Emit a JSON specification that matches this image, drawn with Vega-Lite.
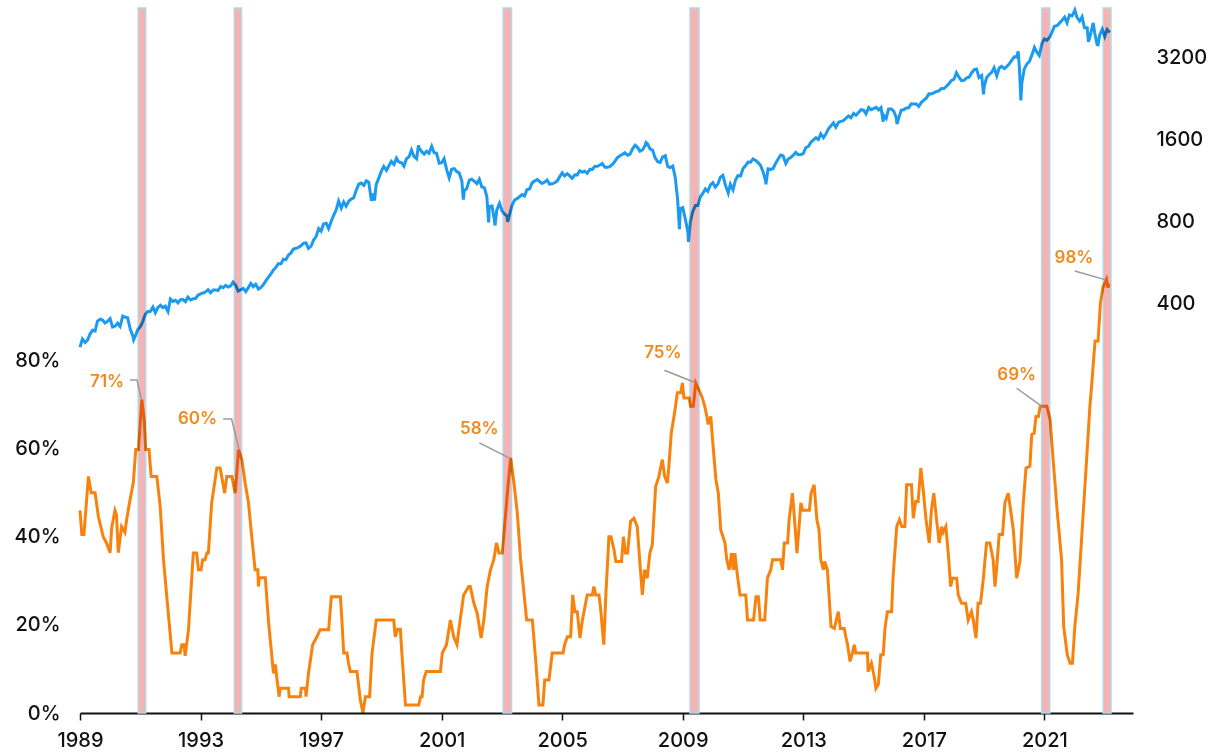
{
  "$schema": "https://vega.github.io/schema/vega-lite/v6.json",
  "width": 1053,
  "height": 705,
  "autosize": "none",
  "padding": {"left": 80, "top": 8, "right": 82, "bottom": 39},
  "background": "white",
  "config": {
    "view": {"stroke": null},
    "font": "Inter",
    "axis": {"labelFont": "Inter", "labelFontWeight": 500, "labelColor": "#111111", "labelFontSize": 20, "grid": false, "title": null}
  },
  "datasets": {
    "spx": [
      {"t":1989.0,"v":277.7},{"t":1989.08,"v":297.5},{"t":1989.17,"v":288.9},{"t":1989.25,"v":294.9},{"t":1989.33,"v":309.6},{"t":1989.42,"v":320.5},{"t":1989.5,"v":318.0},{"t":1989.58,"v":346.1},{"t":1989.67,"v":351.5},{"t":1989.75,"v":349.2},{"t":1989.83,"v":340.4},{"t":1989.92,"v":346.0},
      {"t":1990.0,"v":353.4},{"t":1990.08,"v":329.1},{"t":1990.17,"v":331.9},{"t":1990.25,"v":339.9},{"t":1990.33,"v":330.8},{"t":1990.42,"v":361.2},{"t":1990.5,"v":358.0},{"t":1990.58,"v":356.2},{"t":1990.67,"v":322.6},{"t":1990.75,"v":306.1},{"t":1990.78,"v":295.5},{"t":1990.83,"v":304.0},{"t":1990.92,"v":322.2},
      {"t":1991.0,"v":330.2},{"t":1991.08,"v":343.9},{"t":1991.17,"v":367.1},{"t":1991.25,"v":375.2},{"t":1991.33,"v":375.3},{"t":1991.42,"v":389.8},{"t":1991.5,"v":371.2},{"t":1991.58,"v":387.8},{"t":1991.67,"v":395.4},{"t":1991.75,"v":387.9},{"t":1991.83,"v":392.5},{"t":1991.92,"v":375.2},
      {"t":1992.0,"v":417.1},{"t":1992.08,"v":408.8},{"t":1992.17,"v":412.7},{"t":1992.25,"v":403.7},{"t":1992.33,"v":414.9},{"t":1992.42,"v":415.4},{"t":1992.5,"v":408.1},{"t":1992.58,"v":424.2},{"t":1992.67,"v":414.0},{"t":1992.75,"v":417.8},{"t":1992.83,"v":418.7},{"t":1992.92,"v":431.4},
      {"t":1993.0,"v":435.7},{"t":1993.08,"v":438.8},{"t":1993.17,"v":443.4},{"t":1993.25,"v":451.7},{"t":1993.33,"v":440.2},{"t":1993.42,"v":450.2},{"t":1993.5,"v":450.5},{"t":1993.58,"v":448.1},{"t":1993.67,"v":463.6},{"t":1993.75,"v":458.9},{"t":1993.83,"v":467.8},{"t":1993.92,"v":461.8},
      {"t":1994.0,"v":466.5},{"t":1994.08,"v":481.6},{"t":1994.17,"v":467.1},{"t":1994.25,"v":445.8},{"t":1994.33,"v":450.9},{"t":1994.42,"v":456.5},{"t":1994.5,"v":444.3},{"t":1994.58,"v":458.3},{"t":1994.67,"v":475.5},{"t":1994.75,"v":462.7},{"t":1994.83,"v":472.4},{"t":1994.92,"v":453.7},
      {"t":1995.0,"v":459.3},{"t":1995.08,"v":470.4},{"t":1995.17,"v":487.4},{"t":1995.25,"v":500.7},{"t":1995.33,"v":514.7},{"t":1995.42,"v":533.4},{"t":1995.5,"v":544.8},{"t":1995.58,"v":562.1},{"t":1995.67,"v":561.9},{"t":1995.75,"v":584.4},{"t":1995.83,"v":581.5},{"t":1995.92,"v":605.4},
      {"t":1996.0,"v":615.9},{"t":1996.08,"v":636.0},{"t":1996.17,"v":640.4},{"t":1996.25,"v":645.5},{"t":1996.33,"v":654.2},{"t":1996.42,"v":669.1},{"t":1996.5,"v":670.6},{"t":1996.58,"v":640.0},{"t":1996.67,"v":652.0},{"t":1996.75,"v":687.3},{"t":1996.83,"v":705.3},{"t":1996.92,"v":757.0},
      {"t":1997.0,"v":740.7},{"t":1997.08,"v":786.2},{"t":1997.17,"v":790.8},{"t":1997.25,"v":757.1},{"t":1997.33,"v":801.3},{"t":1997.42,"v":848.3},{"t":1997.5,"v":885.1},{"t":1997.58,"v":954.3},{"t":1997.67,"v":899.5},{"t":1997.75,"v":947.3},{"t":1997.83,"v":914.6},{"t":1997.92,"v":955.4},
      {"t":1998.0,"v":970.4},{"t":1998.08,"v":980.3},{"t":1998.17,"v":1049.3},{"t":1998.25,"v":1101.8},{"t":1998.33,"v":1111.8},{"t":1998.42,"v":1090.8},{"t":1998.5,"v":1133.8},{"t":1998.58,"v":1120.7},{"t":1998.67,"v":957.3},{"t":1998.75,"v":1017.0},{"t":1998.77,"v":959.4},{"t":1998.83,"v":1098.7},{"t":1998.92,"v":1163.6},
      {"t":1999.0,"v":1229.2},{"t":1999.08,"v":1279.6},{"t":1999.17,"v":1238.3},{"t":1999.25,"v":1286.4},{"t":1999.33,"v":1335.2},{"t":1999.42,"v":1301.8},{"t":1999.5,"v":1372.7},{"t":1999.58,"v":1328.7},{"t":1999.67,"v":1320.4},{"t":1999.75,"v":1282.7},{"t":1999.83,"v":1362.9},{"t":1999.92,"v":1389.0},
      {"t":2000.0,"v":1469.3},{"t":2000.08,"v":1394.5},{"t":2000.17,"v":1366.4},{"t":2000.23,"v":1527.5},{"t":2000.25,"v":1498.6},{"t":2000.33,"v":1452.4},{"t":2000.42,"v":1420.6},{"t":2000.5,"v":1454.6},{"t":2000.58,"v":1430.8},{"t":2000.67,"v":1517.7},{"t":2000.75,"v":1436.5},{"t":2000.83,"v":1429.4},{"t":2000.92,"v":1315.2},
      {"t":2001.0,"v":1320.3},{"t":2001.08,"v":1366.0},{"t":2001.17,"v":1239.9},{"t":2001.25,"v":1160.3},{"t":2001.33,"v":1249.5},{"t":2001.42,"v":1255.8},{"t":2001.5,"v":1224.4},{"t":2001.58,"v":1211.2},{"t":2001.67,"v":1133.6},{"t":2001.72,"v":965.8},{"t":2001.75,"v":1040.9},{"t":2001.83,"v":1059.8},{"t":2001.92,"v":1139.5},
      {"t":2002.0,"v":1148.1},{"t":2002.08,"v":1130.2},{"t":2002.17,"v":1106.7},{"t":2002.25,"v":1147.4},{"t":2002.33,"v":1076.9},{"t":2002.42,"v":1067.1},{"t":2002.5,"v":989.8},{"t":2002.56,"v":797.7},{"t":2002.58,"v":911.6},{"t":2002.67,"v":916.1},{"t":2002.75,"v":815.3},{"t":2002.77,"v":776.8},{"t":2002.83,"v":885.8},{"t":2002.92,"v":936.3},
      {"t":2003.0,"v":879.8},{"t":2003.08,"v":855.7},{"t":2003.17,"v":841.2},{"t":2003.19,"v":800.7},{"t":2003.25,"v":848.2},{"t":2003.33,"v":916.9},{"t":2003.42,"v":963.6},{"t":2003.5,"v":974.5},{"t":2003.58,"v":990.3},{"t":2003.67,"v":1008.0},{"t":2003.75,"v":996.0},{"t":2003.83,"v":1050.7},{"t":2003.92,"v":1058.2},
      {"t":2004.0,"v":1111.9},{"t":2004.08,"v":1131.1},{"t":2004.17,"v":1144.9},{"t":2004.25,"v":1126.2},{"t":2004.33,"v":1107.3},{"t":2004.42,"v":1120.7},{"t":2004.5,"v":1140.8},{"t":2004.58,"v":1101.7},{"t":2004.67,"v":1104.2},{"t":2004.75,"v":1114.6},{"t":2004.83,"v":1130.2},{"t":2004.92,"v":1173.8},
      {"t":2005.0,"v":1211.9},{"t":2005.08,"v":1181.3},{"t":2005.17,"v":1203.6},{"t":2005.25,"v":1180.6},{"t":2005.33,"v":1156.9},{"t":2005.42,"v":1191.5},{"t":2005.5,"v":1191.3},{"t":2005.58,"v":1234.2},{"t":2005.67,"v":1220.3},{"t":2005.75,"v":1228.8},{"t":2005.83,"v":1207.0},{"t":2005.92,"v":1249.5},
      {"t":2006.0,"v":1248.3},{"t":2006.08,"v":1280.1},{"t":2006.17,"v":1280.7},{"t":2006.25,"v":1294.8},{"t":2006.33,"v":1310.6},{"t":2006.42,"v":1270.1},{"t":2006.5,"v":1270.2},{"t":2006.58,"v":1276.7},{"t":2006.67,"v":1303.8},{"t":2006.75,"v":1335.9},{"t":2006.83,"v":1377.9},{"t":2006.92,"v":1400.6},
      {"t":2007.0,"v":1418.3},{"t":2007.08,"v":1438.2},{"t":2007.17,"v":1406.8},{"t":2007.25,"v":1420.9},{"t":2007.33,"v":1482.4},{"t":2007.42,"v":1530.6},{"t":2007.5,"v":1503.4},{"t":2007.58,"v":1455.3},{"t":2007.67,"v":1474.0},{"t":2007.75,"v":1526.8},{"t":2007.78,"v":1565.2},{"t":2007.83,"v":1549.4},{"t":2007.92,"v":1481.1},
      {"t":2008.0,"v":1468.4},{"t":2008.08,"v":1378.6},{"t":2008.17,"v":1330.6},{"t":2008.25,"v":1322.7},{"t":2008.33,"v":1385.6},{"t":2008.42,"v":1400.4},{"t":2008.5,"v":1280.0},{"t":2008.58,"v":1267.4},{"t":2008.67,"v":1282.8},{"t":2008.75,"v":1166.4},{"t":2008.83,"v":968.8},{"t":2008.89,"v":752.4},{"t":2008.92,"v":896.2},
      {"t":2009.0,"v":903.3},{"t":2009.08,"v":825.9},{"t":2009.17,"v":735.1},{"t":2009.19,"v":676.5},{"t":2009.25,"v":797.9},{"t":2009.33,"v":872.8},{"t":2009.42,"v":919.1},{"t":2009.5,"v":919.3},{"t":2009.58,"v":987.5},{"t":2009.67,"v":1020.6},{"t":2009.75,"v":1057.1},{"t":2009.83,"v":1036.2},{"t":2009.92,"v":1095.6},
      {"t":2010.0,"v":1115.1},{"t":2010.08,"v":1073.9},{"t":2010.17,"v":1104.5},{"t":2010.25,"v":1169.4},{"t":2010.33,"v":1186.7},{"t":2010.42,"v":1089.4},{"t":2010.5,"v":1030.7},{"t":2010.51,"v":1022.6},{"t":2010.58,"v":1101.6},{"t":2010.67,"v":1049.3},{"t":2010.75,"v":1141.2},{"t":2010.83,"v":1183.3},{"t":2010.92,"v":1180.6},
      {"t":2011.0,"v":1257.6},{"t":2011.08,"v":1286.1},{"t":2011.17,"v":1327.2},{"t":2011.25,"v":1325.8},{"t":2011.33,"v":1363.6},{"t":2011.42,"v":1345.2},{"t":2011.5,"v":1320.6},{"t":2011.58,"v":1292.3},{"t":2011.67,"v":1218.9},{"t":2011.75,"v":1131.4},{"t":2011.76,"v":1099.2},{"t":2011.83,"v":1253.3},{"t":2011.92,"v":1247.0},
      {"t":2012.0,"v":1257.6},{"t":2012.08,"v":1312.4},{"t":2012.17,"v":1365.7},{"t":2012.25,"v":1408.5},{"t":2012.33,"v":1397.9},{"t":2012.42,"v":1310.3},{"t":2012.5,"v":1362.2},{"t":2012.58,"v":1379.3},{"t":2012.67,"v":1406.6},{"t":2012.75,"v":1440.7},{"t":2012.83,"v":1412.2},{"t":2012.92,"v":1416.2},
      {"t":2013.0,"v":1426.2},{"t":2013.08,"v":1498.1},{"t":2013.17,"v":1514.7},{"t":2013.25,"v":1569.2},{"t":2013.33,"v":1597.6},{"t":2013.42,"v":1630.7},{"t":2013.5,"v":1606.3},{"t":2013.58,"v":1685.7},{"t":2013.67,"v":1633.0},{"t":2013.75,"v":1681.6},{"t":2013.83,"v":1756.5},{"t":2013.92,"v":1805.8},
      {"t":2014.0,"v":1848.4},{"t":2014.08,"v":1782.6},{"t":2014.17,"v":1859.5},{"t":2014.25,"v":1872.3},{"t":2014.33,"v":1884.0},{"t":2014.42,"v":1923.6},{"t":2014.5,"v":1960.2},{"t":2014.58,"v":1930.7},{"t":2014.67,"v":2003.4},{"t":2014.75,"v":1972.3},{"t":2014.83,"v":2018.1},{"t":2014.92,"v":2067.6},
      {"t":2015.0,"v":2058.9},{"t":2015.08,"v":1995.0},{"t":2015.17,"v":2104.5},{"t":2015.25,"v":2067.9},{"t":2015.33,"v":2085.5},{"t":2015.42,"v":2107.4},{"t":2015.5,"v":2063.1},{"t":2015.58,"v":2103.8},{"t":2015.65,"v":1867.6},{"t":2015.67,"v":1972.2},{"t":2015.75,"v":1920.0},{"t":2015.83,"v":2079.4},{"t":2015.92,"v":2080.4},
      {"t":2016.0,"v":2043.9},{"t":2016.08,"v":1940.2},{"t":2016.11,"v":1829.1},{"t":2016.17,"v":1932.2},{"t":2016.25,"v":2059.7},{"t":2016.33,"v":2065.3},{"t":2016.42,"v":2097.0},{"t":2016.5,"v":2098.9},{"t":2016.58,"v":2173.6},{"t":2016.67,"v":2171.0},{"t":2016.75,"v":2168.3},{"t":2016.83,"v":2126.2},{"t":2016.92,"v":2199.0},
      {"t":2017.0,"v":2238.8},{"t":2017.08,"v":2278.9},{"t":2017.17,"v":2363.6},{"t":2017.25,"v":2362.7},{"t":2017.33,"v":2384.2},{"t":2017.42,"v":2411.8},{"t":2017.5,"v":2423.4},{"t":2017.58,"v":2470.3},{"t":2017.67,"v":2471.7},{"t":2017.75,"v":2519.4},{"t":2017.83,"v":2575.3},{"t":2017.92,"v":2647.6},
      {"t":2018.0,"v":2673.6},{"t":2018.08,"v":2823.8},{"t":2018.17,"v":2713.8},{"t":2018.25,"v":2640.9},{"t":2018.33,"v":2648.1},{"t":2018.42,"v":2705.3},{"t":2018.5,"v":2718.4},{"t":2018.58,"v":2816.3},{"t":2018.67,"v":2901.5},{"t":2018.75,"v":2914.0},{"t":2018.83,"v":2711.7},{"t":2018.92,"v":2760.2},{"t":2018.98,"v":2351.1},
      {"t":2019.0,"v":2506.9},{"t":2019.08,"v":2704.1},{"t":2019.17,"v":2784.5},{"t":2019.25,"v":2834.4},{"t":2019.33,"v":2945.8},{"t":2019.42,"v":2752.1},{"t":2019.5,"v":2941.8},{"t":2019.58,"v":2980.4},{"t":2019.67,"v":2926.5},{"t":2019.75,"v":2976.7},{"t":2019.83,"v":3037.6},{"t":2019.92,"v":3141.0},
      {"t":2020.0,"v":3230.8},{"t":2020.08,"v":3225.5},{"t":2020.13,"v":3386.2},{"t":2020.17,"v":2954.2},{"t":2020.22,"v":2237.4},{"t":2020.25,"v":2584.6},{"t":2020.33,"v":2912.4},{"t":2020.42,"v":3044.3},{"t":2020.5,"v":3100.3},{"t":2020.58,"v":3271.1},{"t":2020.67,"v":3500.3},{"t":2020.75,"v":3363.0},{"t":2020.83,"v":3270.0},{"t":2020.92,"v":3621.6},
      {"t":2021.0,"v":3756.1},{"t":2021.08,"v":3714.2},{"t":2021.17,"v":3811.2},{"t":2021.25,"v":3972.9},{"t":2021.33,"v":4181.2},{"t":2021.42,"v":4204.1},{"t":2021.5,"v":4297.5},{"t":2021.58,"v":4395.3},{"t":2021.67,"v":4522.7},{"t":2021.75,"v":4307.5},{"t":2021.83,"v":4605.4},{"t":2021.92,"v":4567.0},
      {"t":2022.0,"v":4766.2},{"t":2022.01,"v":4796.6},{"t":2022.08,"v":4515.6},{"t":2022.17,"v":4373.9},{"t":2022.25,"v":4530.4},{"t":2022.33,"v":4131.9},{"t":2022.42,"v":4132.2},{"t":2022.46,"v":3666.8},{"t":2022.5,"v":3785.4},{"t":2022.58,"v":4130.3},{"t":2022.62,"v":4305.2},{"t":2022.67,"v":3955.0},{"t":2022.75,"v":3585.6},{"t":2022.78,"v":3577.0},{"t":2022.83,"v":3872.0},{"t":2022.92,"v":4080.1},
      {"t":2023.0,"v":3839.5},{"t":2023.08,"v":4076.6},{"t":2023.17,"v":3970.2}
    ],
    "pct": [
      {"t":1989.0,"p":46},{"t":1989.06,"p":40.5},{"t":1989.13,"p":40.5},{"t":1989.28,"p":53.7},{"t":1989.37,"p":50},{"t":1989.5,"p":50},{"t":1989.61,"p":44.6},{"t":1989.77,"p":40},{"t":1989.88,"p":38.6},{"t":1990.0,"p":36.4},{"t":1990.05,"p":42},{"t":1990.16,"p":46},{"t":1990.21,"p":45},{"t":1990.27,"p":36.4},{"t":1990.38,"p":42.3},{"t":1990.49,"p":41},{"t":1990.55,"p":44},{"t":1990.66,"p":48.4},{"t":1990.77,"p":52.3},{"t":1990.85,"p":59.8},{"t":1990.94,"p":59.8},
      {"t":1991.05,"p":71.1},{"t":1991.13,"p":66.6},{"t":1991.18,"p":59.8},{"t":1991.29,"p":59.8},{"t":1991.36,"p":53.7},{"t":1991.55,"p":53.7},{"t":1991.66,"p":46.9},{"t":1991.77,"p":34.8},{"t":1991.88,"p":26.4},{"t":1992.05,"p":13.6},{"t":1992.32,"p":13.6},{"t":1992.38,"p":15.5},{"t":1992.45,"p":15.5},{"t":1992.49,"p":13},{"t":1992.6,"p":18.9},{"t":1992.76,"p":36.3},{"t":1992.87,"p":36.3},{"t":1992.93,"p":32.5},{"t":1993.02,"p":32.5},{"t":1993.07,"p":34.8},{"t":1993.15,"p":34.8},{"t":1993.21,"p":36.3},{"t":1993.26,"p":36.3},{"t":1993.37,"p":47.7},{"t":1993.5,"p":53.7},{"t":1993.54,"p":55.6},{"t":1993.65,"p":55.6},{"t":1993.7,"p":53.7},{"t":1993.8,"p":49.9},{"t":1993.87,"p":53.7},{"t":1994.04,"p":53.7},{"t":1994.1,"p":51.5},{"t":1994.15,"p":49.9},
      {"t":1994.26,"p":59.8},{"t":1994.37,"p":57.5},{"t":1994.48,"p":52.2},{"t":1994.59,"p":47.7},{"t":1994.7,"p":40},{"t":1994.81,"p":32.5},{"t":1994.9,"p":32.5},{"t":1994.92,"p":28.7},{"t":1994.95,"p":30.7},{"t":1995.15,"p":30.7},{"t":1995.26,"p":20.4},{"t":1995.42,"p":9},{"t":1995.48,"p":11},{"t":1995.53,"p":8},{"t":1995.61,"p":3.7},{"t":1995.64,"p":5.6},{"t":1995.92,"p":5.6},{"t":1995.94,"p":3.7},{"t":1996.31,"p":3.7},{"t":1996.34,"p":5.6},{"t":1996.48,"p":5.6},{"t":1996.5,"p":3.7},{"t":1996.58,"p":9},{"t":1996.72,"p":15.5},{"t":1996.86,"p":17.3},{"t":1996.97,"p":18.9},{"t":1997.25,"p":18.9},{"t":1997.34,"p":26.4},{"t":1997.64,"p":26.4},{"t":1997.69,"p":21.1},{"t":1997.75,"p":13.6},{"t":1997.86,"p":13.6},{"t":1997.91,"p":11.3},{"t":1997.97,"p":9.4},
      {"t":1998.19,"p":9.4},{"t":1998.3,"p":3},{"t":1998.39,"p":0},{"t":1998.47,"p":3.7},{"t":1998.61,"p":3.7},{"t":1998.69,"p":13.6},{"t":1998.83,"p":21.1},{"t":1999.41,"p":21.1},{"t":1999.46,"p":17.3},{"t":1999.54,"p":19},{"t":1999.63,"p":19},{"t":1999.68,"p":13.6},{"t":1999.8,"p":1.8},{"t":2000.24,"p":1.8},{"t":2000.3,"p":3.7},{"t":2000.35,"p":3.7},{"t":2000.4,"p":7.5},{"t":2000.49,"p":9.4},{"t":2000.96,"p":9.4},{"t":2001.02,"p":13.6},{"t":2001.16,"p":15.5},{"t":2001.29,"p":21.1},{"t":2001.4,"p":17.3},{"t":2001.51,"p":15.5},{"t":2001.57,"p":18.9},{"t":2001.73,"p":26.8},{"t":2001.9,"p":28.7},{"t":2001.95,"p":28.7},{"t":2002.07,"p":24.9},{"t":2002.18,"p":22.6},{"t":2002.31,"p":17},{"t":2002.4,"p":21.1},{"t":2002.51,"p":28.7},{"t":2002.62,"p":32.5},{"t":2002.73,"p":34.8},{"t":2002.82,"p":38.6},{"t":2002.9,"p":36.3},{"t":2003.01,"p":36.3},{"t":2003.07,"p":40.8},{"t":2003.18,"p":49.9},
      {"t":2003.29,"p":57.9},{"t":2003.4,"p":52.2},{"t":2003.51,"p":45.4},{"t":2003.62,"p":34.8},{"t":2003.71,"p":28.7},{"t":2003.82,"p":21.1},{"t":2004.01,"p":21.1},{"t":2004.12,"p":12},{"t":2004.23,"p":1.8},{"t":2004.36,"p":1.8},{"t":2004.42,"p":7.5},{"t":2004.56,"p":7.5},{"t":2004.67,"p":13.6},{"t":2005.03,"p":13.6},{"t":2005.08,"p":15.5},{"t":2005.17,"p":17.3},{"t":2005.28,"p":17.3},{"t":2005.35,"p":26.8},{"t":2005.42,"p":23},{"t":2005.5,"p":23},{"t":2005.59,"p":17},{"t":2005.67,"p":21.1},{"t":2005.83,"p":26.8},{"t":2006.0,"p":26.8},{"t":2006.05,"p":28.7},{"t":2006.11,"p":26.8},{"t":2006.22,"p":26.8},{"t":2006.27,"p":24},{"t":2006.38,"p":15.5},{"t":2006.45,"p":27},{"t":2006.55,"p":40},{"t":2006.62,"p":40},{"t":2006.72,"p":37},{"t":2006.78,"p":34.4},{"t":2006.97,"p":34.4},{"t":2007.03,"p":40},{"t":2007.1,"p":36.3},{"t":2007.17,"p":36.3},{"t":2007.27,"p":43.5},{"t":2007.38,"p":44.2},{"t":2007.49,"p":42.3},{"t":2007.57,"p":34.8},{"t":2007.66,"p":26.8},{"t":2007.73,"p":32.5},{"t":2007.82,"p":30.6},{"t":2007.91,"p":36.3},{"t":2007.99,"p":38.2},
      {"t":2008.1,"p":51.4},{"t":2008.21,"p":53.7},{"t":2008.32,"p":57.5},{"t":2008.4,"p":53.7},{"t":2008.49,"p":52.2},{"t":2008.54,"p":56},{"t":2008.62,"p":63.6},{"t":2008.71,"p":67.3},{"t":2008.76,"p":69.6},{"t":2008.82,"p":72.7},{"t":2008.93,"p":72.7},{"t":2008.99,"p":74.9},{"t":2009.04,"p":71.5},{"t":2009.21,"p":71.5},{"t":2009.26,"p":69.6},{"t":2009.35,"p":69.6},{"t":2009.43,"p":74.9},{"t":2009.54,"p":73.3},{"t":2009.65,"p":71.5},{"t":2009.73,"p":69.6},{"t":2009.8,"p":67.3},{"t":2009.84,"p":65.5},{"t":2009.93,"p":67.3},{"t":2009.99,"p":62},{"t":2010.1,"p":53},{"t":2010.18,"p":49.9},{"t":2010.26,"p":41.6},{"t":2010.4,"p":38.6},{"t":2010.46,"p":34.8},{"t":2010.54,"p":32.5},{"t":2010.62,"p":36.3},{"t":2010.68,"p":32.5},{"t":2010.73,"p":36.3},{"t":2010.79,"p":32.5},{"t":2010.9,"p":26.8},{"t":2011.09,"p":26.8},{"t":2011.15,"p":21.1},{"t":2011.35,"p":21.1},{"t":2011.43,"p":26.4},{"t":2011.51,"p":26.4},{"t":2011.57,"p":21.1},{"t":2011.72,"p":21.1},{"t":2011.81,"p":30.6},{"t":2011.92,"p":32.5},{"t":2011.98,"p":34.8},
      {"t":2012.25,"p":34.8},{"t":2012.31,"p":32.5},{"t":2012.37,"p":38.6},{"t":2012.48,"p":38.6},{"t":2012.53,"p":43.9},{"t":2012.64,"p":49.9},{"t":2012.71,"p":43.9},{"t":2012.79,"p":36.3},{"t":2012.86,"p":42.3},{"t":2012.92,"p":47.7},{"t":2012.98,"p":46},{"t":2013.2,"p":46},{"t":2013.26,"p":49.9},{"t":2013.36,"p":51.8},{"t":2013.45,"p":43.9},{"t":2013.52,"p":41.6},{"t":2013.58,"p":34.8},{"t":2013.67,"p":32.5},{"t":2013.71,"p":34.4},{"t":2013.8,"p":32.5},{"t":2013.92,"p":19.6},{"t":2014.03,"p":19.2},{"t":2014.16,"p":23},{"t":2014.23,"p":19.2},{"t":2014.36,"p":19.2},{"t":2014.41,"p":17.3},{"t":2014.47,"p":15.5},{"t":2014.55,"p":11.7},{"t":2014.63,"p":13.6},{"t":2014.69,"p":15.5},{"t":2014.74,"p":13.6},{"t":2015.13,"p":13.6},{"t":2015.15,"p":9.4},{"t":2015.26,"p":11.3},{"t":2015.36,"p":8},{"t":2015.41,"p":5.6},{"t":2015.49,"p":6.5},{"t":2015.57,"p":13.2},{"t":2015.65,"p":13.2},{"t":2015.71,"p":19.2},{"t":2015.79,"p":23},{"t":2015.93,"p":23},{"t":2015.98,"p":31},
      {"t":2016.1,"p":42.3},{"t":2016.19,"p":43.9},{"t":2016.27,"p":42.3},{"t":2016.37,"p":42.3},{"t":2016.43,"p":51.8},{"t":2016.59,"p":51.8},{"t":2016.65,"p":44.2},{"t":2016.73,"p":48},{"t":2016.81,"p":48},{"t":2016.9,"p":55.6},{"t":2016.99,"p":49.9},{"t":2017.07,"p":44},{"t":2017.18,"p":38.6},{"t":2017.25,"p":46},{"t":2017.33,"p":49.9},{"t":2017.42,"p":44},{"t":2017.51,"p":38.6},{"t":2017.59,"p":42.3},{"t":2017.64,"p":41},{"t":2017.73,"p":42.3},{"t":2017.81,"p":36.3},{"t":2017.89,"p":28.7},{"t":2017.95,"p":30.6},{"t":2018.09,"p":30.6},{"t":2018.14,"p":26.8},{"t":2018.25,"p":24.9},{"t":2018.39,"p":24.9},{"t":2018.47,"p":21.1},{"t":2018.58,"p":23},{"t":2018.64,"p":21.1},{"t":2018.73,"p":17},{"t":2018.8,"p":24.9},{"t":2018.88,"p":24.9},{"t":2018.97,"p":30.2},{"t":2019.08,"p":38.6},{"t":2019.19,"p":38.6},{"t":2019.3,"p":34.8},{"t":2019.36,"p":28.7},{"t":2019.41,"p":32.5},{"t":2019.5,"p":40.5},{"t":2019.61,"p":40.5},{"t":2019.69,"p":47.7},{"t":2019.8,"p":49.9},{"t":2019.88,"p":46},{"t":2019.97,"p":41.5},
      {"t":2020.08,"p":30.6},{"t":2020.19,"p":34.4},{"t":2020.3,"p":47.7},{"t":2020.39,"p":55.6},{"t":2020.52,"p":56},{"t":2020.58,"p":63.2},{"t":2020.66,"p":63.5},{"t":2020.72,"p":67.3},{"t":2020.8,"p":67.3},{"t":2020.86,"p":69.6},{"t":2021.08,"p":69.6},{"t":2021.19,"p":66.6},{"t":2021.29,"p":57.5},{"t":2021.43,"p":45.4},{"t":2021.57,"p":34.8},{"t":2021.64,"p":19.6},{"t":2021.76,"p":13.2},{"t":2021.85,"p":11.3},{"t":2021.93,"p":11.3},{"t":2022.01,"p":19.6},{"t":2022.12,"p":27.2},{"t":2022.26,"p":42.3},{"t":2022.4,"p":57.5},{"t":2022.51,"p":69.6},{"t":2022.6,"p":77.2},{"t":2022.68,"p":84.4},{"t":2022.78,"p":84.4},{"t":2022.86,"p":93.1},{"t":2022.94,"p":96.5},{"t":2023.06,"p":98.4},{"t":2023.11,"p":96.5},{"t":2023.14,"p":97.5}
    ],
    "bands": [
      {"a":1990.93,"b":1991.18},{"a":1994.12,"b":1994.36},{"a":2003.04,"b":2003.32},{"a":2009.24,"b":2009.54},{"a":2020.91,"b":2021.18},{"a":2022.95,"b":2023.21}
    ],
    "labels": [
      {"t":1989.9,"p":75.2,"s":"71%"},{"t":1992.9,"p":66.7,"s":"60%"},{"t":2002.25,"p":64.4,"s":"58%"},{"t":2008.34,"p":81.6,"s":"75%"},{"t":2020.08,"p":76.7,"s":"69%"},{"t":2021.98,"p":103.2,"s":"98%"}
    ],
    "leaders": [
      {"k":1,"t":1990.66,"p":75.6},{"k":1,"t":1990.89,"p":75.6},{"k":1,"t":1991.04,"p":71.0},
      {"k":2,"t":1993.75,"p":66.7},{"k":2,"t":1994.03,"p":66.7},{"k":2,"t":1994.28,"p":59.7},
      {"k":3,"t":2002.25,"p":61.3},{"k":3,"t":2003.27,"p":57.8},
      {"k":4,"t":2008.39,"p":77.8},{"k":4,"t":2009.41,"p":75.0},
      {"k":5,"t":2020.08,"p":73.7},{"k":5,"t":2020.94,"p":69.5},
      {"k":6,"t":2022.01,"p":100.3},{"k":6,"t":2023.04,"p":98.3}
    ]
  },
  "layer": [
    {
      "data": {"name": "bands"},
      "mark": {"type": "rect", "fill": "#f5b3b3", "stroke": "#b3d8ea", "strokeWidth": 1.5},
      "encoding": {
        "x": {"field": "a", "type": "quantitative", "scale": {"domain": [1989, 2023.94], "nice": false, "zero": false},
          "axis": {"values": [1989,1993,1997,2001,2005,2009,2013,2017,2021], "format": "d", "domainColor": "#111111", "domainWidth": 2, "tickColor": "#111111", "tickWidth": 1.5, "tickSize": 7, "labelPadding": 10, "labelFlush": false}},
        "x2": {"field": "b"}
      }
    },
    {
      "data": {"name": "spx"},
      "mark": {"type": "line", "color": "#1a9af0", "strokeWidth": 3, "blend": "multiply"},
      "encoding": {
        "x": {"field": "t", "type": "quantitative"},
        "y": {"field": "v", "type": "quantitative", "scale": {"type": "log", "domain": [12.6, 4883], "nice": false},
          "axis": {"orient": "right", "values": [400, 800, 1600, 3200], "domain": false, "ticks": false, "labelPadding": 23, "format": "d"}}
      }
    },
    {
      "layer": [
        {
          "data": {"name": "pct"},
          "mark": {"type": "line", "color": "#f7820e", "strokeWidth": 3, "blend": "multiply"},
          "encoding": {
            "x": {"field": "t", "type": "quantitative"},
            "y": {"field": "p", "type": "quantitative", "scale": {"domain": [0, 160], "nice": false},
              "axis": {"orient": "left", "values": [0, 20, 40, 60, 80], "labelExpr": "datum.value + '%'", "domain": false, "ticks": false, "labelPadding": 20}}
          }
        },
        {
          "data": {"name": "leaders"},
          "mark": {"type": "line", "color": "#9a9a9a", "strokeWidth": 1.5},
          "encoding": {
            "x": {"field": "t", "type": "quantitative"},
            "y": {"field": "p", "type": "quantitative"},
            "detail": {"field": "k"}
          }
        },
        {
          "data": {"name": "labels"},
          "mark": {"type": "text", "color": "#f08a1e", "font": "Inter", "fontSize": 17, "fontWeight": 600, "align": "center", "baseline": "middle"},
          "encoding": {
            "x": {"field": "t", "type": "quantitative"},
            "y": {"field": "p", "type": "quantitative"},
            "text": {"field": "s"}
          }
        }
      ]
    }
  ],
  "resolve": {"scale": {"y": "independent"}}
}
